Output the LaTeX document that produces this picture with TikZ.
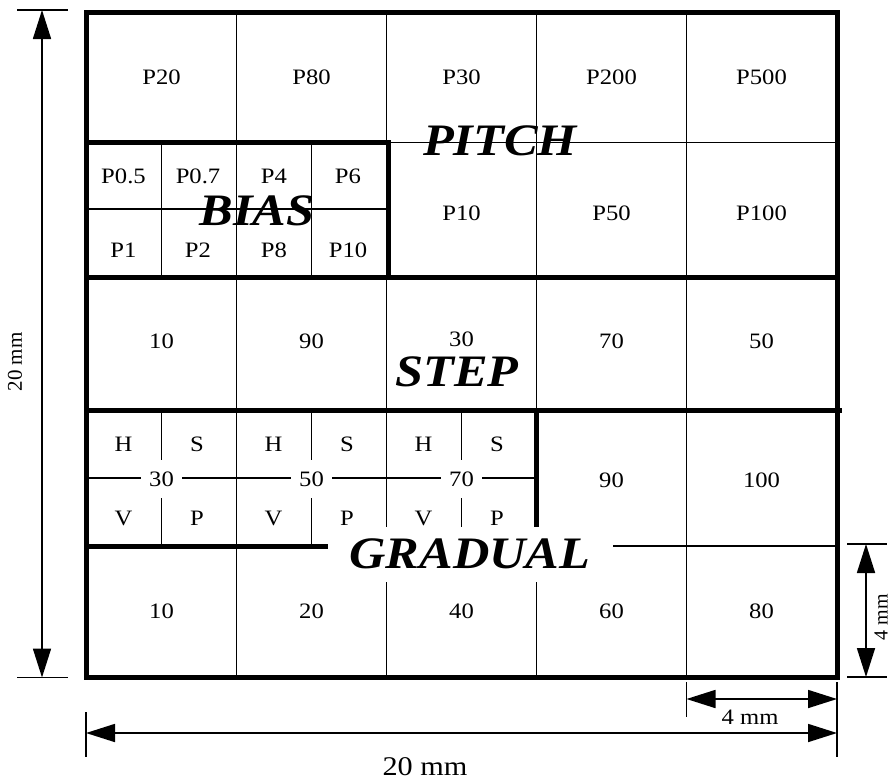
\documentclass[tikz,border=0pt]{standalone}
\usepackage{fontspec}
\setmainfont[FakeStretch=1.12]{Liberation Serif}
\newfontfamily\plainfont{Liberation Serif}
\usetikzlibrary{arrows.meta}
\begin{document}
\begin{tikzpicture}[x=1pt,y=-1pt,
  thickl/.style={line width=5pt},
  thinl/.style={line width=1.7pt},
  cell/.style={font=\fontsize{22}{24}\selectfont, inner sep=0pt},
  big/.style={font=\fontsize{45}{50}\selectfont\bfseries\itshape, inner sep=0pt, anchor=base},
  dimline/.style={line width=1.7pt, {Triangle[length=29pt,width=18pt]}-{Triangle[length=29pt,width=18pt]}},
  extline/.style={line width=1.7pt},
  numbox/.style={cell, fill=white, minimum width=41pt, minimum height=38pt},
]
\useasboundingbox (0,0) rectangle (891,782);

% ---- thin grid lines ----
\begin{scope}[thinl]
% row 1
\foreach \x in {236.5,386.5,536.5,686.5} \draw (\x,12.5) -- (\x,142.5);
% row 2
\foreach \x in {161.5,236.5,311.5,536.5,686.5} \draw (\x,142.5) -- (\x,277);
\draw (86,209) -- (386.5,209);
\draw (388,142.5) -- (837,142.5);
% row 3
\foreach \x in {236.5,386.5,536.5,686.5} \draw (\x,277) -- (\x,410);
% row 4
\foreach \x in {161.5,311.5} \draw (\x,410) -- (\x,546);
\draw (461.5,410) -- (461.5,527);
\draw (236.5,410) -- (236.5,677);
\draw (386.5,410) -- (386.5,527);
\draw (386.5,582) -- (386.5,677);
\draw (536.5,582) -- (536.5,677);
\draw (686.5,410) -- (686.5,677);
\draw (86,478) -- (536.5,478);
\draw (613,546) -- (837,546);
\end{scope}

% ---- number boxes in row 4 ----
\node[numbox] (n30) at (161.5,479) {30};
\node[numbox] (n50) at (311.5,479) {50};
\node[numbox] (n70) at (461.5,479) {70};

% ---- thick lines ----
\begin{scope}[thickl]
\draw (86,12.5) rectangle (837,677);
\draw (86,142.5) -- (391,142.5);
\draw (388.5,142.5) -- (388.5,277);
\draw (86,277) -- (837,277);
\draw (86,410) -- (842,410);
\draw (536.5,410) -- (536.5,527);
\draw (86,546) -- (328,546);
\end{scope}

% ---- row 1 ----
\node[cell] (p20)  at (161.5,77) {P20};
\node[cell] (p80)  at (311.5,77) {P80};
\node[cell] (p30)  at (461.5,77) {P30};
\node[cell] (p200) at (611.5,77) {P200};
\node[cell] (p500) at (761.5,77) {P500};
% ---- row 2 ----
\node[cell] (p05) at (123.5,176) {P0.5};
\node[cell] (p07) at (198,176) {P0.7};
\node[cell] (p4)  at (274,176) {P4};
\node[cell] (p6)  at (348,176) {P6};
\node[cell] (p1)  at (123.5,250) {P1};
\node[cell] (p2)  at (198,250) {P2};
\node[cell] (p8)  at (274,250) {P8};
\node[cell] (p10a) at (348,250) {P10};
\node[cell] (p10b) at (461.5,213) {P10};
\node[cell] (p50)  at (611.5,213) {P50};
\node[cell] (p100) at (761.5,213) {P100};
% ---- row 3 ----
\node[cell] (s10) at (161.5,341) {10};
\node[cell] (s90) at (311.5,341) {90};
\node[cell] (s30) at (461.5,339) {30};
\node[cell] (s70) at (611.5,341) {70};
\node[cell] (s50) at (761.5,341) {50};
% ---- row 4 ----
\foreach \x/\n in {123.5/a,273.5/b,423.5/c} {
  \node[cell] (h\n) at (\x,444) {H};
  \node[cell] (v\n) at (\x,518) {V};
}
\foreach \x/\n in {197/a,347/b,497/c} {
  \node[cell] (s\n) at (\x,444) {S};
  \node[cell] (q\n) at (\x,518) {P};
}
\node[cell] (g90)  at (611.5,480) {90};
\node[cell] (g100) at (761.5,480) {100};
% ---- row 5 ----
\node[cell] (r10) at (161.5,611) {10};
\node[cell] (r20) at (311.5,611) {20};
\node[cell] (r40) at (461.5,611) {40};
\node[cell] (r60) at (611.5,611) {60};
\node[cell] (r80) at (761.5,611) {80};

% ---- big labels ----
\node[big] (pitch) at (500,155) {PITCH};
\node[big] (bias) at (257,225) {BIAS};
\node[big] (step) at (457,386) {STEP};
\node[big] (gradual) at (470,568) {GRADUAL};

% ---- dimensions ----
\coordinate (lt) at (42,10);
\coordinate (lb) at (42,677.5);
\draw[extline] (17,10) -- (68,10);
\draw[extline] (17,677.5) -- (68,677.5);
\draw[dimline] (lt) -- (lb);
\node[rotate=90, inner sep=0pt, font=\plainfont\fontsize{21}{24}\selectfont] (l20) at (15,362) {20 mm};

\coordinate (bl) at (86,733);
\coordinate (br) at (837,733);
\draw[extline] (86,712) -- (86,757);
\draw[extline] (837,682) -- (837,757);
\draw[dimline] (bl) -- (br);
\node[inner sep=0pt, font=\fontsize{27}{30}\selectfont] (b20) at (425,767) {20 mm};

\coordinate (sl) at (686.5,699);
\coordinate (sr) at (837,699);
\draw[extline] (686.5,682) -- (686.5,717);
\draw[dimline] (sl) -- (sr);
\node[inner sep=0pt, font=\fontsize{22}{24}\selectfont] (s4) at (750,717) {4 mm};

\coordinate (rt) at (866,544);
\coordinate (rb) at (866,677);
\draw[extline] (847,544) -- (887,544);
\draw[extline] (847,677) -- (887,677);
\draw[dimline] (rt) -- (rb);
\node[rotate=90, inner sep=0pt, font=\plainfont\fontsize{20}{24}\selectfont] (r4) at (881,617) {4 mm};
\end{tikzpicture}
\end{document}
